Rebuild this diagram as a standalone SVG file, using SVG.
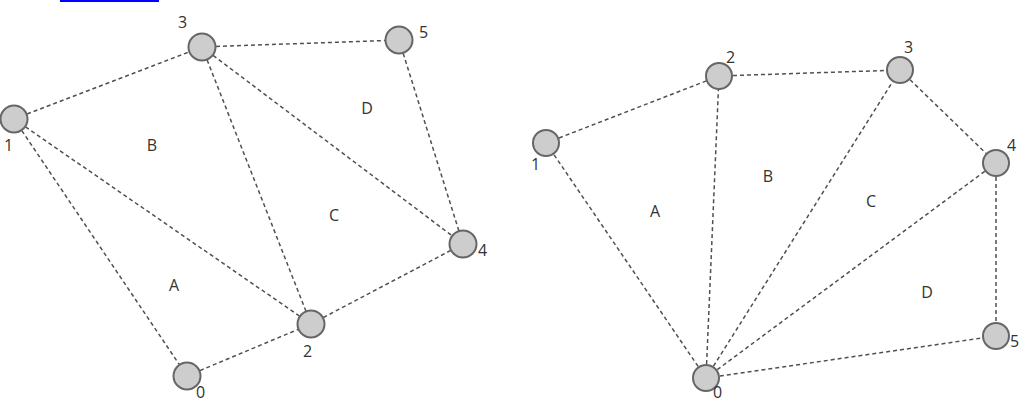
<svg xmlns="http://www.w3.org/2000/svg" width="1021" height="401" viewBox="0 0 1021 401">
<style>
.e{stroke:#505050;stroke-width:1.5;stroke-dasharray:4 3;fill:none}
.n{fill:#cdcdcd;stroke:#666;stroke-width:2}
.t{font-family:"Open Sans","Liberation Sans",sans-serif;font-size:16px;fill:#333}
.r{font-family:"Open Sans","Liberation Sans",sans-serif;font-size:16px;fill:#333;text-anchor:middle}
</style>
<rect x="60" y="0" width="99" height="2" fill="#0000ff"/>
<g id="connectors">
<line class="e" x1="14" y1="119" x2="202" y2="47"/>
<line class="e" x1="202" y1="47" x2="399" y2="40"/>
<line class="e" x1="202" y1="47" x2="311" y2="324"/>
<line class="e" x1="202" y1="47" x2="463" y2="244"/>
<line class="e" x1="399" y1="40" x2="463" y2="244"/>
<line class="e" x1="14" y1="119" x2="311" y2="324"/>
<line class="e" x1="14" y1="119" x2="187" y2="376"/>
<line class="e" x1="187" y1="376" x2="311" y2="324"/>
<line class="e" x1="311" y1="324" x2="463" y2="244"/>
<line class="e" x1="546" y1="143" x2="719" y2="76"/>
<line class="e" x1="719" y1="76" x2="900" y2="70"/>
<line class="e" x1="900" y1="70" x2="996" y2="163"/>
<line class="e" x1="996" y1="163" x2="996" y2="336"/>
<line class="e" x1="706" y1="378" x2="546" y2="143"/>
<line class="e" x1="706" y1="378" x2="719" y2="76"/>
<line class="e" x1="706" y1="378" x2="900" y2="70"/>
<line class="e" x1="706" y1="378" x2="996" y2="163"/>
<line class="e" x1="706" y1="378" x2="996" y2="336"/>
</g>
<g id="L1"><circle class="n" cx="14" cy="119" r="13.5"/><text class="t" x="4" y="151">1</text></g>
<g id="L3"><circle class="n" cx="202" cy="47" r="13.5"/><text class="t" x="178" y="28">3</text></g>
<g id="L5"><circle class="n" cx="399" cy="40" r="13.5"/><text class="t" x="419" y="38">5</text></g>
<g id="L4"><circle class="n" cx="463" cy="244" r="13.5"/><text class="t" x="478" y="256">4</text></g>
<g id="L2"><circle class="n" cx="311" cy="324" r="13.5"/><text class="t" x="303" y="357">2</text></g>
<g id="L0"><circle class="n" cx="187" cy="376" r="13.5"/><text class="t" x="196" y="398">0</text></g>
<g id="Lfaces">
<text class="r" x="152" y="151">B</text>
<text class="r" x="174" y="291">A</text>
<text class="r" x="334" y="221">C</text>
<text class="r" x="367" y="114">D</text>
</g>
<g id="R1"><circle class="n" cx="546" cy="143" r="13"/><text class="t" x="531" y="170">1</text></g>
<g id="R2"><circle class="n" cx="719" cy="76" r="13"/><text class="t" x="726" y="63">2</text></g>
<g id="R3"><circle class="n" cx="900" cy="70" r="13"/><text class="t" x="904" y="53">3</text></g>
<g id="R4"><circle class="n" cx="996" cy="163" r="13"/><text class="t" x="1007" y="151">4</text></g>
<g id="R5"><circle class="n" cx="996" cy="336" r="13"/><text class="t" x="1010" y="347">5</text></g>
<g id="R0"><circle class="n" cx="706" cy="378" r="13"/><text class="t" x="713" y="398">0</text></g>
<g id="Rfaces">
<text class="r" x="655" y="217">A</text>
<text class="r" x="768" y="182">B</text>
<text class="r" x="871" y="207">C</text>
<text class="r" x="927" y="298">D</text>
</g>
</svg>
